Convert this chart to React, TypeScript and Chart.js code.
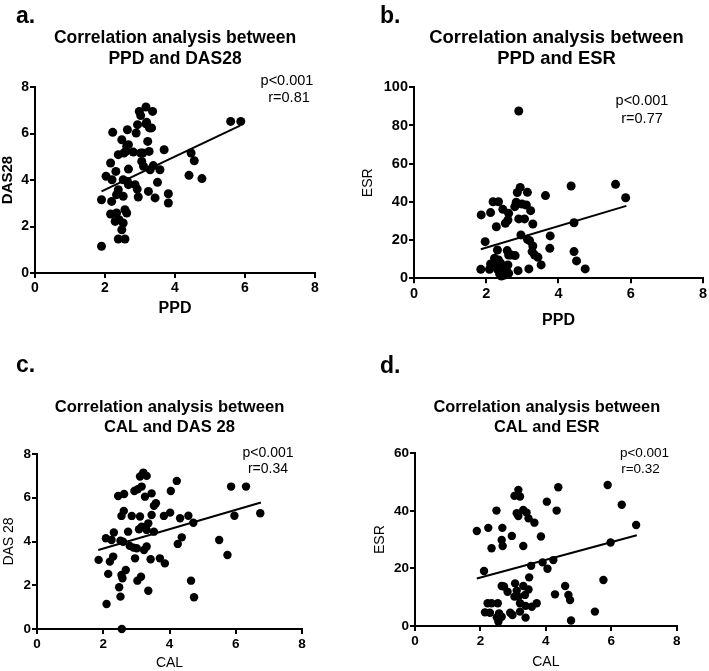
import React, { useEffect, useRef } from "react";
import { Chart, registerables } from "chart.js";
Chart.register(...registerables);

const FONT = '"Liberation Sans", Arial, Helvetica, sans-serif';

// Shared tick labels
const xTicks = [0, 2, 4, 6, 8];
const yTicksDAS = [0, 2, 4, 6, 8];
const yTicksESR100 = [0, 20, 40, 60, 80, 100];
const yTicksESR60 = [0, 20, 40, 60];

// Panel a: PPD vs DAS28
const ppdA = [1.9, 1.9, 2.03, 2.16, 2.22, 2.2, 2.19, 2.16, 2.31, 2.33, 2.38, 2.29, 2.33, 2.4, 2.38, 2.48, 2.52, 2.57, 2.57, 2.62, 2.52, 2.52, 2.64, 2.67, 2.38, 2.48, 2.54, 2.62, 2.64, 2.67, 2.6, 2.67, 2.81, 2.86, 2.92, 2.89, 2.93, 2.95, 2.98, 3.02, 3.05, 3.08, 3.02, 3.1, 3.17, 3.17, 3.19, 3.22, 3.24, 3.26, 3.29, 3.33, 3.36, 3.27, 3.38, 3.43, 3.5, 3.57, 3.69, 3.81, 3.81, 4.4, 4.46, 4.55, 4.77, 5.59, 5.88];
const das28A = [1.15, 3.15, 4.16, 4.73, 6.05, 4.01, 3.08, 2.54, 4.37, 3.37, 3.58, 2.22, 2.58, 2.29, 1.46, 1.86, 2.15, 1.46, 2.72, 2.58, 3.3, 4.01, 3.94, 3.8, 5.09, 5.73, 5.16, 5.45, 6.16, 4.47, 5.23, 5.52, 5.2, 3.8, 3.61, 6.02, 6.38, 3.27, 6.95, 6.77, 4.8, 5.16, 5.16, 4.59, 7.14, 6.42, 6.48, 5.66, 3.51, 5.23, 4.44, 6.24, 6.95, 6.24, 4.62, 3.23, 3.9, 4.44, 5.3, 3.41, 3.01, 4.2, 5.16, 4.83, 4.06, 6.52, 6.52];
const fitAx = [1.9, 5.86];
const fitAy = [3.51, 6.34];

// Panel b: PPD vs ESR
const ppdB = [2.9, 1.85, 1.86, 1.97, 2.12, 2.09, 2.12, 2.19, 2.34, 2.28, 2.31, 2.23, 2.28, 2.34, 2.31, 2.37, 2.42, 2.44, 2.46, 2.4, 2.51, 2.56, 2.6, 2.62, 2.46, 2.53, 2.6, 2.62, 2.58, 2.62, 2.8, 2.69, 2.88, 2.86, 2.94, 2.83, 2.79, 2.9, 3.06, 2.96, 2.99, 3.11, 3.14, 3.18, 3.14, 3.2, 3.23, 3.29, 3.29, 3.27, 3.34, 3.43, 3.52, 3.64, 3.77, 3.76, 4.35, 4.43, 4.43, 4.5, 4.74, 5.58, 5.86];
const esrB = [87.6, 4.7, 33.2, 19.2, 7.5, 4.7, 34.4, 40.1, 40.1, 27.0, 14.8, 10.5, 7.9, 9.6, 4.7, 2.3, 1.2, 4.0, 6.1, 7.9, 1.7, 4.4, 7.0, 2.6, 36.1, 28.8, 30.5, 34.0, 14.5, 12.2, 11.9, 12.2, 4.0, 44.9, 47.6, 39.8, 37.5, 31.1, 31.1, 22.7, 38.9, 38.4, 45.0, 4.9, 20.4, 19.7, 35.4, 28.4, 16.9, 14.0, 12.2, 11.0, 7.0, 43.3, 22.2, 15.7, 48.3, 29.1, 14.0, 9.1, 4.9, 49.2, 42.2];
const fitBx = [1.85, 5.88];
const fitBy = [15.2, 37.9];

// Panel c: CAL vs DAS 28
const calC = [1.86, 2.1, 2.08, 2.15, 2.2, 2.25, 2.3, 2.32, 2.45, 2.48, 2.52, 2.55, 2.58, 2.56, 2.55, 2.62, 2.6, 2.52, 2.63, 2.68, 2.75, 2.8, 2.86, 2.91, 2.94, 2.96, 3.01, 3.03, 3.04, 3.08, 3.11, 3.11, 3.14, 3.16, 3.16, 3.21, 3.26, 3.23, 3.31, 3.31, 3.36, 3.31, 3.36, 3.43, 3.46, 3.46, 3.53, 3.59, 3.53, 3.71, 3.83, 3.86, 4.02, 4.04, 4.22, 4.25, 4.32, 4.37, 4.57, 4.65, 4.72, 4.74, 5.5, 5.75, 5.86, 5.96, 6.31, 6.74];
const das28C = [3.16, 1.14, 4.15, 2.52, 3.08, 4.07, 3.31, 4.41, 6.08, 1.91, 1.48, 2.47, 2.32, 0.0, 5.17, 5.4, 3.99, 4.04, 6.17, 2.7, 4.45, 3.8, 5.17, 3.72, 6.31, 3.23, 3.69, 2.21, 6.39, 4.56, 5.14, 6.97, 2.39, 6.51, 4.68, 7.15, 6.05, 3.61, 7.0, 4.53, 4.83, 3.77, 1.75, 3.19, 6.2, 5.21, 5.63, 5.75, 4.45, 3.23, 5.17, 3.0, 5.32, 6.31, 6.77, 3.89, 5.06, 4.19, 5.18, 2.21, 4.86, 1.45, 4.07, 3.38, 6.51, 5.18, 6.51, 5.29];
const fitCx = [1.85, 6.76];
const fitCy = [3.61, 5.78];

// Panel d: CAL vs ESR
const calD = [1.89, 2.11, 2.14, 2.24, 2.22, 2.29, 2.34, 2.34, 2.49, 2.53, 2.5, 2.55, 2.57, 2.65, 2.65, 2.67, 2.68, 2.65, 2.72, 2.83, 2.91, 2.96, 2.98, 3.04, 3.06, 3.04, 3.11, 3.16, 3.21, 3.16, 3.11, 3.16, 3.21, 3.21, 3.31, 3.31, 3.31, 3.36, 3.38, 3.41, 3.38, 3.47, 3.47, 3.55, 3.49, 3.57, 3.65, 3.72, 3.85, 3.9, 4.03, 4.05, 4.23, 4.28, 4.33, 4.38, 4.59, 4.69, 4.74, 4.77, 5.5, 5.76, 5.89, 5.98, 6.32, 6.76];
const esrD = [33.0, 19.1, 4.75, 34.1, 7.9, 4.6, 27.0, 7.9, 40.1, 7.9, 3.0, 1.5, 4.4, 3.2, 29.9, 34.1, 27.8, 13.9, 13.7, 11.9, 4.6, 31.3, 3.8, 45.2, 14.8, 10.2, 39.2, 47.3, 45.0, 38.2, 12.3, 10.2, 5.0, 7.9, 40.3, 27.8, 13.9, 10.8, 7.0, 39.4, 2.9, 12.7, 37.4, 20.9, 16.9, 6.7, 35.9, 7.9, 31.1, 22.1, 43.2, 19.9, 22.9, 11.0, 40.1, 48.2, 13.9, 10.8, 9.0, 1.9, 5.0, 16.0, 49.0, 29.0, 42.1, 35.1];
const fitDx = [1.89, 6.78];
const fitDy = [16.5, 31.5];

type Panel = {
  w: number; h: number; left: number; top: number;
  xs: number[]; ys: number[]; fx: number[]; fy: number[];
  yMax: number; yTicks: number[];
  xTitle: string; yTitle: string; xTitleBold: boolean; yTitleBold: boolean;
  xTitleSize: number; yTitleSize: number; xTitlePad: number; yTitlePad: number;
  padTop: number; padRight: number; yWidth: number; xHeight: number;
  tickSize: number; radius: number;
  letter: string; letterX: number; letterY: number;
  title: string[]; titleX: number; titleY: number[]; titleSize: number;
  stats: string[]; statX: number[]; statY: number[]; statSize: number;
};

const panels: Panel[] = [
  {
    w: 354, h: 330, left: 0, top: 0,
    xs: ppdA, ys: das28A, fx: fitAx, fy: fitAy, yMax: 8, yTicks: yTicksDAS,
    xTitle: "PPD", yTitle: "DAS28", xTitleBold: true, yTitleBold: true,
    xTitleSize: 16, yTitleSize: 15, xTitlePad: 13, yTitlePad: 0,
    padTop: 87, padRight: 39, yWidth: 35, xHeight: 57, tickSize: 14, radius: 4.5,
    letter: "a.", letterX: 16, letterY: 23,
    title: ["Correlation analysis between", "PPD and DAS28"], titleX: 175, titleY: [42.7, 64], titleSize: 17.5,
    stats: ["p<0.001", "r=0.81"], statX: [287, 289], statY: [85, 101.7], statSize: 14.5,
  },
  {
    w: 355, h: 330, left: 354, top: 0,
    xs: ppdB, ys: esrB, fx: fitBx, fy: fitBy, yMax: 100, yTicks: yTicksESR100,
    xTitle: "PPD", yTitle: "ESR", xTitleBold: true, yTitleBold: false,
    xTitleSize: 16, yTitleSize: 14, xTitlePad: 1, yTitlePad: 7.3,
    padTop: 87.3, padRight: 5.7, yWidth: 60, xHeight: 51.7, tickSize: 14.5, radius: 4.5,
    letter: "b.", letterX: 26, letterY: 23,
    title: ["Correlation analysis between", "PPD and ESR"], titleX: 202.5, titleY: [43.3, 64], titleSize: 18.4,
    stats: ["p<0.001", "r=0.77"], statX: [288, 288], statY: [105, 122.7], statSize: 14.5,
  },
  {
    w: 354, h: 341, left: 0, top: 330,
    xs: calC, ys: das28C, fx: fitCx, fy: fitCy, yMax: 8, yTicks: yTicksDAS,
    xTitle: "CAL", yTitle: "DAS 28", xTitleBold: false, yTitleBold: false,
    xTitleSize: 14, yTitleSize: 14, xTitlePad: 1, yTitlePad: 2.3,
    padTop: 124, padRight: 52, yWidth: 37, xHeight: 42, tickSize: 13.5, radius: 4.2,
    letter: "c.", letterX: 16, letterY: 41.7,
    title: ["Correlation analysis between", "CAL and DAS 28"], titleX: 169.5, titleY: [81.7, 101.7], titleSize: 16.6,
    stats: ["p<0.001", "r=0.34"], statX: [268, 268], statY: [126.7, 143.3], statSize: 14,
  },
  {
    w: 355, h: 341, left: 354, top: 330,
    xs: calD, ys: esrD, fx: fitDx, fy: fitDy, yMax: 60, yTicks: yTicksESR60,
    xTitle: "CAL", yTitle: "ESR", xTitleBold: false, yTitleBold: false,
    xTitleSize: 14, yTitleSize: 14, xTitlePad: 2, yTitlePad: 19,
    padTop: 123.3, padRight: 32.3, yWidth: 61, xHeight: 45, tickSize: 13.5, radius: 4.2,
    letter: "d.", letterX: 26, letterY: 43,
    title: ["Correlation analysis between", "CAL and ESR"], titleX: 192.8, titleY: [81.7, 101.7], titleSize: 16.4,
    stats: ["p<0.001", "r=0.32"], statX: [290.5, 286.5], statY: [126.7, 143.3], statSize: 13.5,
  },
];

function PanelChart({ p }: { p: Panel }) {
  const ref = useRef<HTMLCanvasElement | null>(null);
  useEffect(() => {
    if (!ref.current) return;
    const textPlugin = {
      id: "panelText",
      afterDraw(chart: any) {
        const ctx = chart.ctx;
        ctx.save();
        ctx.fillStyle = "#000";
        ctx.textBaseline = "alphabetic";
        ctx.textAlign = "left";
        ctx.font = `bold 23px ${FONT}`;
        ctx.fillText(p.letter, p.letterX, p.letterY);
        ctx.textAlign = "center";
        ctx.font = `bold ${p.titleSize}px ${FONT}`;
        p.title.forEach((t, i) => ctx.fillText(t, p.titleX, p.titleY[i]));
        ctx.font = `${p.statSize}px ${FONT}`;
        p.stats.forEach((t, i) => ctx.fillText(t, p.statX[i], p.statY[i]));
        ctx.restore();
      },
    };
    const chart = new Chart(ref.current, {
      type: "scatter",
      data: {
        datasets: [
          {
            type: "scatter",
            data: p.xs.map((x, i) => ({ x, y: p.ys[i] })),
            backgroundColor: "#000",
            borderWidth: 0,
            pointRadius: p.radius,
            clip: false as any,
          },
          {
            type: "line",
            data: p.fx.map((x, i) => ({ x, y: p.fy[i] })),
            borderColor: "#000",
            borderWidth: 2,
            pointRadius: 0,
            fill: false,
          },
        ],
      },
      options: {
        animation: false,
        responsive: false,
        devicePixelRatio: 1,
        layout: { padding: { top: p.padTop, right: p.padRight, left: 0, bottom: 0 } },
        plugins: { legend: { display: false }, tooltip: { enabled: false }, title: { display: false } },
        scales: {
          x: {
            type: "linear",
            min: 0,
            max: 8,
            afterBuildTicks: (s: any) => { s.ticks = xTicks.map((v) => ({ value: v })); },
            afterFit: (s: any) => { s.height = p.xHeight; },
            grid: { drawOnChartArea: false, drawTicks: true, tickLength: 5, color: "#000", lineWidth: 2 },
            border: { display: true, color: "#000", width: 2 },
            ticks: { color: "#000", padding: 2, maxRotation: 0, font: { family: FONT, size: p.tickSize, weight: "bold" } },
            title: {
              display: true, text: p.xTitle, color: "#000",
              padding: { top: 0, bottom: p.xTitlePad },
              font: { family: FONT, size: p.xTitleSize, weight: p.xTitleBold ? "bold" : "normal", lineHeight: 1 },
            },
          },
          y: {
            type: "linear",
            min: 0,
            max: p.yMax,
            afterBuildTicks: (s: any) => { s.ticks = p.yTicks.map((v) => ({ value: v })); },
            afterFit: (s: any) => { s.width = p.yWidth; },
            grid: { drawOnChartArea: false, drawTicks: true, tickLength: 5, color: "#000", lineWidth: 2 },
            border: { display: true, color: "#000", width: 2 },
            ticks: { color: "#000", padding: 1, font: { family: FONT, size: p.tickSize, weight: "bold" } },
            title: {
              display: true, text: p.yTitle, color: "#000",
              padding: { top: p.yTitlePad, bottom: 0 },
              font: { family: FONT, size: p.yTitleSize, weight: p.yTitleBold ? "bold" : "normal", lineHeight: 1 },
            },
          },
        },
      },
      plugins: [textPlugin],
    } as any);
    return () => chart.destroy();
  }, [p]);
  return (
    <canvas
      ref={ref}
      width={p.w}
      height={p.h}
      style={{ position: "absolute", left: p.left, top: p.top, width: p.w, height: p.h }}
    />
  );
}

export default function App() {
  return (
    <div style={{ position: "absolute", left: 0, top: 0, width: 709, height: 671, background: "#fff" }}>
      {panels.map((p, i) => (
        <PanelChart key={i} p={p} />
      ))}
    </div>
  );
}
